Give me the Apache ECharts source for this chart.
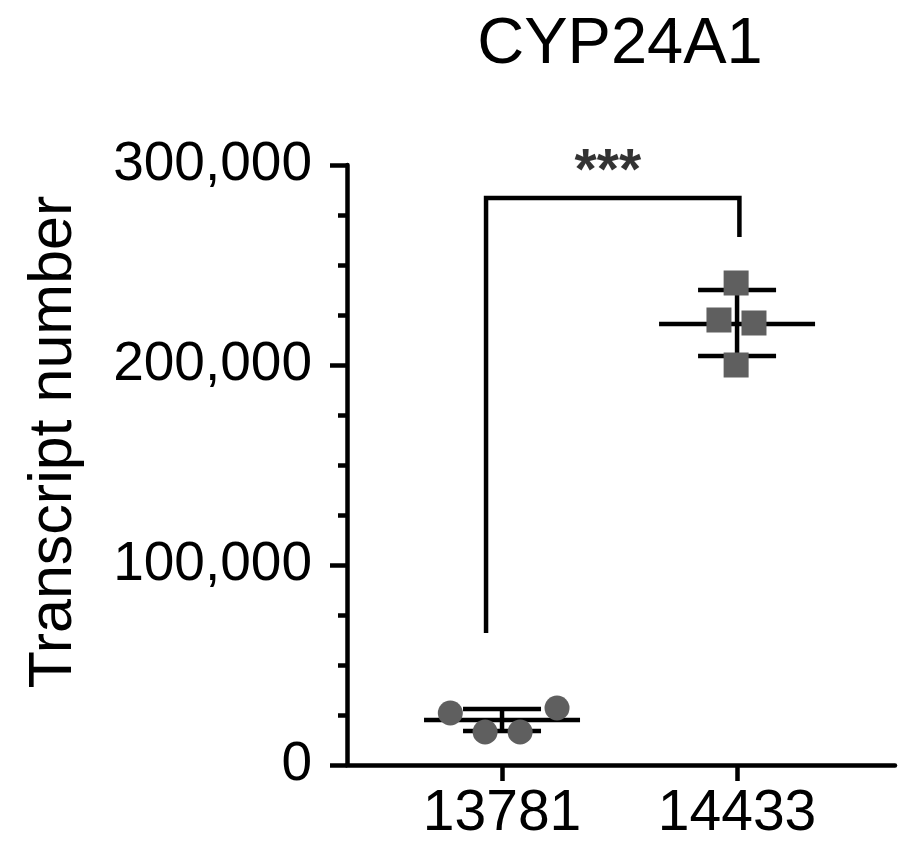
<!DOCTYPE html>
<html>
<head>
<meta charset="utf-8">
<script src="https://cdn.jsdelivr.net/npm/echarts@6/dist/echarts.min.js"></script>
<style>
  html, body { margin: 0; padding: 0; background: #fff; }
  #chart { width: 922px; height: 866px; }
</style>
</head>
<body>
<div id="chart"></div>
<script>
// groups on x (positions 1 and 2)
const groups = ['13781', '14433'];
// individual points, x holds the horizontal jitter around the group position
const circleX = [0.78, 0.928, 1.077, 1.234];
const circleY = [26000, 16500, 16500, 28500];
const squareX = [1.996, 1.923, 2.072, 1.996];
const squareY = [241000, 222500, 221000, 200000];
// mean and error bar ends
const means = [22500, 220500];
const errLow = [17000, 204500];
const errHigh = [28000, 237500];
// significance bracket
const bracketX = [0.932, 0.932, 2.01, 2.01];
const bracketY = [66000, 283500, 283500, 264000];
const starText = '***';
const starPos = [1.45, 283500];

const font = "'Liberation Sans', Arial, sans-serif";
const ink = '#000';
const dotColor = '#5f5f5f';

const chart = echarts.init(document.getElementById('chart'));

const circles = circleX.map((x, i) => [x, circleY[i]]);
const squares = squareX.map((x, i) => [x, squareY[i]]);
const bars = groups.map((g, i) => [i + 1, means[i], errLow[i], errHigh[i]]);
const bracket = bracketX.map((x, i) => [x, bracketY[i]]);

const option = {
  animation: false,
  title: {
    text: 'CYP24A1',
    left: 615,
    top: 8,
    textAlign: 'center',
    textStyle: { fontFamily: font, fontSize: 65, fontWeight: 'normal', color: ink }
  },
  grid: { left: 347, right: 27, top: 165, bottom: 101, containLabel: false },
  xAxis: {
    type: 'value',
    min: 0.3404,
    max: 2.672,
    axisLine: { lineStyle: { color: ink, width: 4.5 } },
    axisTick: { show: true, customValues: [1, 2], length: 16, lineStyle: { color: ink, width: 4.5 } },
    axisLabel: {
      customValues: [1, 2],
      formatter: v => groups[Math.round(v) - 1],
      margin: 21,
      fontFamily: font,
      fontSize: 57,
      color: ink
    },
    splitLine: { show: false }
  },
  yAxis: {
    type: 'value',
    min: 0,
    max: 300000,
    interval: 100000,
    name: 'Transcript number',
    nameLocation: 'middle',
    nameGap: 262,
    nameTextStyle: { fontFamily: font, fontSize: 61, color: ink, padding: [0, 0, 0, 46] },
    axisLine: { show: true, lineStyle: { color: ink, width: 4.5 } },
    axisTick: { show: true, length: 17, lineStyle: { color: ink, width: 4.5 } },
    minorTick: { show: true, splitNumber: 4, length: 9, lineStyle: { color: ink, width: 4.5 } },
    axisLabel: {
      margin: 35,
      fontFamily: font,
      fontSize: 55,
      color: ink,
      formatter: v => v.toLocaleString('en-US')
    },
    splitLine: { show: false }
  },
  series: [
    {
      type: 'scatter',
      data: circles,
      symbol: 'circle',
      symbolSize: 25,
      itemStyle: { color: dotColor, opacity: 1 }
    },
    {
      type: 'scatter',
      data: squares,
      symbol: 'rect',
      symbolSize: 25,
      itemStyle: { color: dotColor, opacity: 1 }
    },
    {
      type: 'custom',
      data: bars,
      renderItem: function (params, api) {
        const x = api.value(0);
        const m = api.coord([x, api.value(1)]);
        const lo = api.coord([x, api.value(2)]);
        const hi = api.coord([x, api.value(3)]);
        const st = { stroke: ink, lineWidth: 4.5 };
        return {
          type: 'group',
          children: [
            { type: 'line', shape: { x1: m[0] - 78, y1: m[1], x2: m[0] + 78, y2: m[1] }, style: st },
            { type: 'line', shape: { x1: lo[0], y1: lo[1], x2: hi[0], y2: hi[1] }, style: st },
            { type: 'line', shape: { x1: lo[0] - 39, y1: lo[1], x2: lo[0] + 39, y2: lo[1] }, style: st },
            { type: 'line', shape: { x1: hi[0] - 39, y1: hi[1], x2: hi[0] + 39, y2: hi[1] }, style: st }
          ]
        };
      }
    },
    {
      type: 'line',
      data: bracket,
      symbol: 'none',
      lineStyle: { color: ink, width: 4.5, join: 'miter', cap: 'butt' }
    },
    {
      type: 'scatter',
      data: [starPos],
      symbolSize: 0,
      clip: false,
      label: {
        show: true,
        position: 'top',
        distance: -4,
        formatter: starText,
        fontFamily: font,
        fontSize: 57,
        fontWeight: 'bold',
        color: ink
      }
    }
  ]
};

chart.setOption(option);
</script>
</body>
</html>
